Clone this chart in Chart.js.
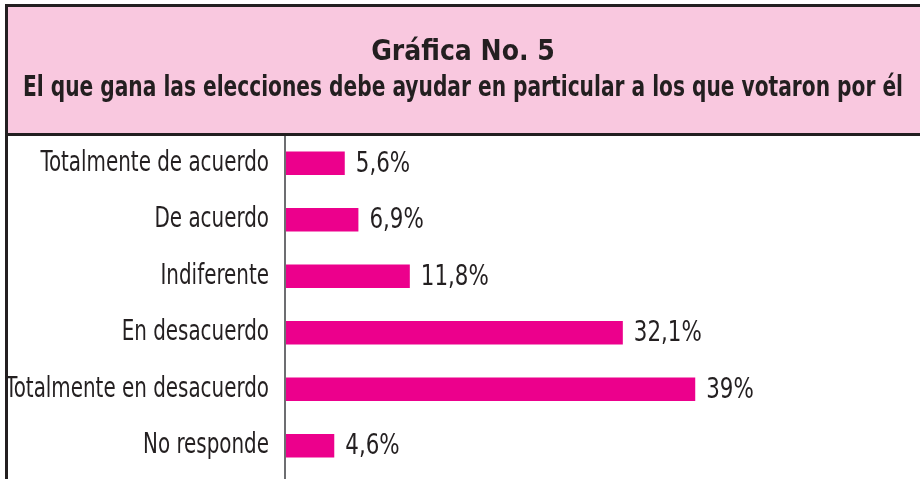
<!DOCTYPE html>
<html>
<head>
<meta charset="utf-8">
<script src="https://cdn.jsdelivr.net/npm/chart.js@4"></script>
<style>
  html, body { margin: 0; padding: 0; background: #fff; }
  #wrap { position: relative; width: 920px; height: 479px; }
</style>
</head>
<body>
<div id="wrap"><canvas id="grafica5"></canvas></div>
<script>
const categorias = [
    'Totalmente de acuerdo',
    'De acuerdo',
    'Indiferente',
    'En desacuerdo',
    'Totalmente en desacuerdo',
    'No responde'
];
const porcentajes = [5.6, 6.9, 11.8, 32.1, 39, 4.6];
const etiquetas = ['5,6%', '6,9%', '11,8%', '32,1%', '39%', '4,6%'];
const titulo = [
    'Gráfica No. 5',
    'El que gana las elecciones debe ayudar en particular a los que votaron por él'
];

const FUENTE = '"DejaVu Sans Condensed", "Liberation Sans", sans-serif';
const TINTA = '#231f20';

// texto angosto (la fuente original es condensada)
function textoAngosto(c, txt, x, y, factor) {
    const w = c.measureText(txt).width;
    c.fillText(txt, x, y, w * factor);
}

// caja rosa del encabezado + marco
const marco = {
    id: 'marco',
    beforeDraw(chart) {
        const c = chart.ctx;
        const W = chart.width, H = chart.height;
        c.save();
        c.fillStyle = '#f9c8df';
        c.fillRect(5, 4, W - 5, 132);
        c.fillStyle = TINTA;
        c.fillRect(5, 4, W - 5, 3);     // arriba
        c.fillRect(5, 133, W - 5, 3);   // abajo del encabezado
        c.fillRect(5, 4, 3, H - 4);     // izquierda
        c.restore();
    },
    afterDatasetsDraw(chart) {
        const c = chart.ctx;
        const area = chart.chartArea;
        const yScale = chart.scales.y;
        c.save();
        // eje vertical hasta abajo
        c.strokeStyle = '#6d6e71';
        c.lineWidth = 2;
        c.beginPath();
        c.moveTo(area.left - 1, 136);
        c.lineTo(area.left - 1, chart.height);
        c.stroke();

        c.fillStyle = TINTA;
        c.font = '28px ' + FUENTE;
        c.textBaseline = 'middle';

        // categorias a la izquierda del eje
        c.textAlign = 'right';
        categorias.forEach((cat, i) => {
            textoAngosto(c, cat, area.left - 17, yScale.getPixelForTick(i), 0.79);
        });

        // valores al final de cada barra
        const meta = chart.getDatasetMeta(0);
        c.textAlign = 'left';
        meta.data.forEach((bar, i) => {
            textoAngosto(c, etiquetas[i], bar.x + 11, bar.y + 1, 0.85);
        });
        c.restore();
    }
};

new Chart(document.getElementById('grafica5'), {
    type: 'bar',
    data: {
        labels: categorias,
        datasets: [{
            data: porcentajes,
            backgroundColor: '#ec008c',
            borderWidth: 0,
            barPercentage: 0.42,
            categoryPercentage: 1
        }]
    },
    options: {
        indexAxis: 'y',
        responsive: true,
        maintainAspectRatio: false,
        animation: false,
        layout: { padding: { top: 0, right: 17, bottom: 5, left: 23 } },
        plugins: {
            legend: { display: false },
            tooltip: { enabled: false },
            title: {
                display: true,
                text: titulo,
                color: TINTA,
                font: { family: FUENTE, size: 28, weight: 'bold', lineHeight: 1.2857 },
                padding: { top: 35, bottom: 28 }
            }
        },
        scales: {
            x: {
                display: false,
                min: 0,
                max: 58.8
            },
            y: {
                afterFit(scale) {
                    scale.width = 263;
                    scale.paddingTop = 0;
                    scale.paddingBottom = 0;
                },
                grid: { display: false, drawTicks: false },
                border: { display: false },
                ticks: { display: false }
            }
        }
    },
    plugins: [marco]
});
</script>
</body>
</html>
